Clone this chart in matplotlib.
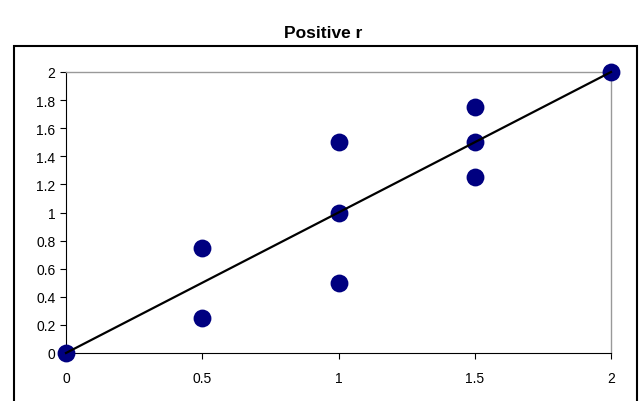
import matplotlib
matplotlib.use("Agg")
import matplotlib.pyplot as plt
from matplotlib.patches import Rectangle

x_vals = [0, 0.5, 0.5, 1, 1, 1, 1.5, 1.5, 1.5, 2]
y_vals = [0, 0.75, 0.25, 1.5, 1.0, 0.5, 1.75, 1.5, 1.25, 2]
line_x = [0, 2]
line_y = [0, 2]
x_ticks = [0, 0.5, 1, 1.5, 2]
y_ticks = [0, 0.2, 0.4, 0.6, 0.8, 1, 1.2, 1.4, 1.6, 1.8, 2]
title = "Positive r"

plt.rcParams['font.family'] = ['Liberation Sans', 'DejaVu Sans']

fig = plt.figure(figsize=(6.41, 4.02), dpi=100)
fig.patch.set_facecolor('white')
fig.patches.append(Rectangle((14/641, -0.05), (637-14)/641, (402-47)/402 + 0.05,
                             transform=fig.transFigure, fill=False,
                             edgecolor='black', linewidth=1.5))

ax = fig.add_axes([66/641, 48/402, (611-66)/641, (354-73)/402])
ax.scatter(x_vals, y_vals, s=165, color='#000080', zorder=3, clip_on=False, linewidths=0)
ax.plot(line_x, line_y, color='black', linewidth=1.6, zorder=4, clip_on=False)
ax.set_xlim(0, 2)
ax.set_ylim(0, 2)
ax.set_xticks(x_ticks)
ax.set_xticklabels([f"{v:g}" for v in x_ticks])
ax.set_yticks(y_ticks)
ax.set_yticklabels([f"{v:g}" for v in y_ticks])
ax.tick_params(axis='both', labelsize=10, direction='out', length=4, width=0.8, colors='black')
ax.tick_params(axis='x', pad=9)
for s in ['top', 'right']:
    ax.spines[s].set_color('#999999')
    ax.spines[s].set_linewidth(1)
for s in ['left', 'bottom']:
    ax.spines[s].set_color('black')
    ax.spines[s].set_linewidth(0.8)

fig.text(323/641, 1 - 33/402, title, ha='center', va='center', fontsize=12.5, fontweight='bold')

fig.savefig("out.png", dpi=100)
